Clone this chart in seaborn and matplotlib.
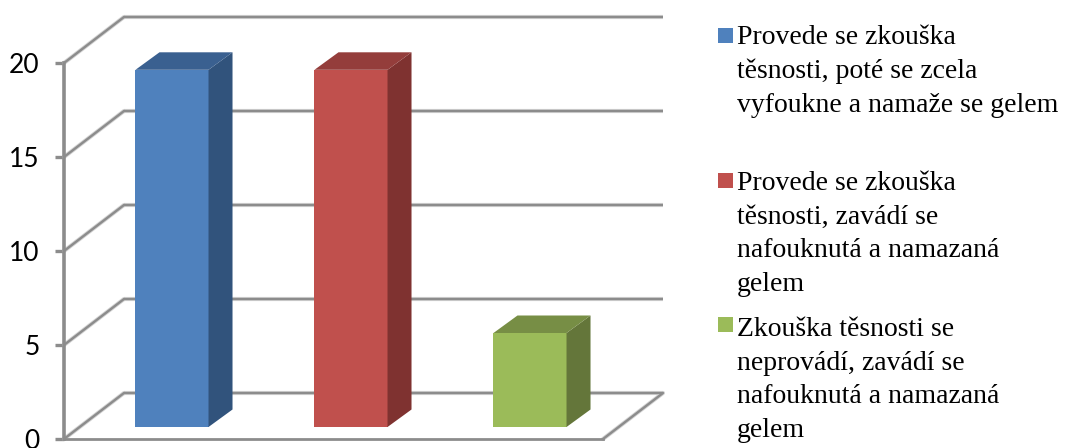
import matplotlib
matplotlib.use("Agg")
import matplotlib.pyplot as plt
import matplotlib.transforms as mtransforms
from matplotlib.patches import Polygon, Rectangle
import seaborn as sns

categories = [
    "Provede se zkouška\ntěsnosti, poté se zcela\nvyfoukne a namaže se gelem",
    "Provede se zkouška\ntěsnosti, zavádí se\nnafouknutá a namazaná\ngelem",
    "Zkouška těsnosti se\nneprovádí, zavádí se\nnafouknutá a namazaná\ngelem",
]
values = [19, 19, 5]
y_ticks = [0, 5, 10, 15, 20]
front_colors = ["#4F81BD", "#C0504D", "#9BBB59"]
side_colors = ["#31537C", "#7F3230", "#64763A"]
top_colors = ["#3A6090", "#943D3B", "#778E45"]

W, H = 1077, 448
sns.set_theme(style="white")
fig = plt.figure(figsize=(W / 100, H / 100), dpi=100, facecolor="white")


def box(x0, x1, y_bottom, y_top):
    return [x0 / W, 1 - y_bottom / H, (x1 - x0) / W, (y_bottom - y_top) / H]


GREY = "#8C8C8C"
HALO = "#D4D4D4"

# Frame: front plane of the 3-D box
ax = fig.add_axes(box(64, 603, 439, 63))
ax.set_xlim(0, 1)
ax.set_ylim(0, 20)
ax.set_facecolor("none")
ax.set_xticks([])
ax.set_yticks(y_ticks)
ax.tick_params(axis="y", length=6.5, width=2.4, color=GREY, pad=11, left=True)
for lab in ax.get_yticklabels():
    lab.set_fontfamily("Lato")
    lab.set_fontsize(19)
    lab.set_color("black")
    lab.set_clip_on(False)
for s in ("top", "right"):
    ax.spines[s].set_visible(False)
ax.spines["left"].set_color(GREY)
ax.spines["left"].set_linewidth(2.6)
ax.spines["bottom"].set_color(GREY)
ax.spines["bottom"].set_linewidth(2.0)

# Back wall is the same plane shifted by the chart depth
back = mtransforms.offset_copy(ax.transData, fig=fig, x=60, y=46, units="dots")
for v in y_ticks:
    for lw, col, z in ((3.0, HALO, 1), (1.7, GREY, 2)):
        ax.plot([0, 1], [v, v], transform=back, color=col, lw=lw, clip_on=False,
                zorder=z, solid_capstyle="butt")
    # diagonal from the front edge to the back wall
    p0 = ax.transData.transform((0, v))
    p1 = back.transform((0, v))
    for lw, col, z in ((3.0, HALO, 1), (1.7, GREY, 2)):
        ax.plot([p0[0], p1[0]], [p0[1], p1[1]], transform=None, color=col, lw=lw,
                clip_on=False, zorder=z)
# right floor edge
p0 = ax.transData.transform((1, 0))
p1 = back.transform((1, 0))
for lw, col, z in ((3.0, HALO, 1), (1.7, GREY, 2)):
    ax.plot([p0[0], p1[0]], [p0[1], p1[1]], transform=None, color=col, lw=lw,
            clip_on=False, zorder=z)

# Bars stand slightly behind the front plane
bar_ax = fig.add_axes(box(82.5, 619.5, 427, 51))
bar_ax.patch.set_alpha(0)
sns.barplot(x=list(range(len(values))), y=values, hue=list(range(len(values))),
            palette=front_colors, saturation=1, width=0.408, legend=False, ax=bar_ax,
            linewidth=0, edgecolor="none")
bar_ax.set_xlim(-0.5, 2.5)
bar_ax.set_ylim(0, 376 / 18.8)
bar_ax.axis("off")

DX = 24 / 179  # bar depth, category units
DY = 17.5 / 18.8  # bar depth, value units
bars = [p for p in bar_ax.patches if p.get_height() > 0]
bars.sort(key=lambda p: p.get_x())
for p, sc, tc in zip(bars, side_colors, top_colors):
    x0, x1 = p.get_x(), p.get_x() + p.get_width()
    y1 = p.get_height()
    bar_ax.add_patch(Polygon([(x1, 0), (x1 + DX, DY), (x1 + DX, y1 + DY), (x1, y1)],
                             closed=True, fc=sc, ec="none", clip_on=False))
    bar_ax.add_patch(Polygon([(x0, y1), (x0 + DX, y1 + DY), (x1 + DX, y1 + DY), (x1, y1)],
                             closed=True, fc=tc, ec="none", clip_on=False))

# Legend
square_tops = [28, 173, 317]
text_tops = [25, 171, 317]
for label, col, stop, ttop in zip(categories, front_colors, square_tops, text_tops):
    fig.add_artist(Rectangle((718 / W, 1 - (stop + 15) / H), 15 / W, 15 / H,
                             transform=fig.transFigure, fc=col, ec="none"))
    fig.text(737 / W, 1 - ttop / H, label, family="Liberation Serif", fontsize=20,
             color="black", ha="left", va="top", linespacing=1.45)

fig.savefig("out.png", dpi=100, facecolor="white")
